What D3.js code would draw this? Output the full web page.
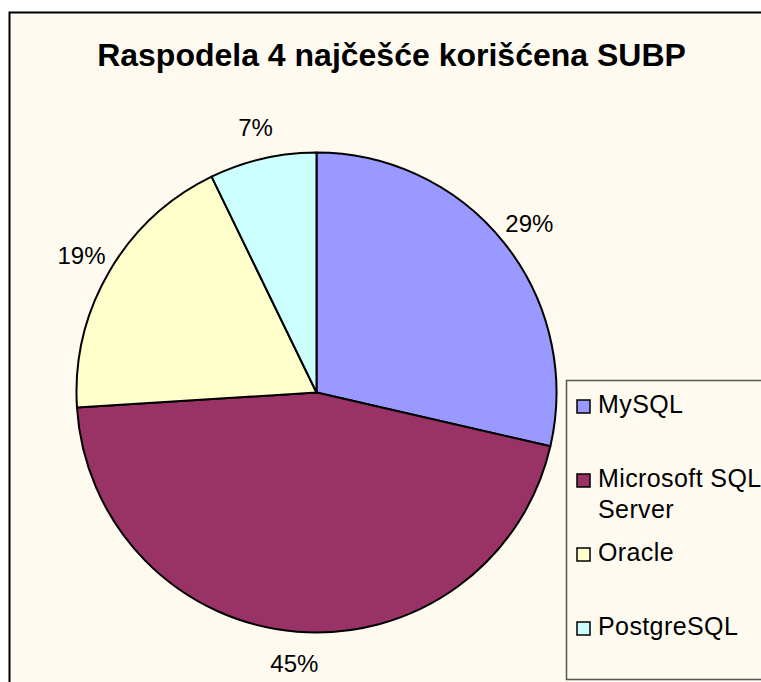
<!DOCTYPE html>
<html>
<head>
<meta charset="utf-8">
<script src="https://cdn.jsdelivr.net/npm/d3@7"></script>
<style>
  html, body { margin: 0; padding: 0; background: #fff; }
  svg { display: block; font-family: Arial, "Liberation Sans", sans-serif; }
</style>
</head>
<body>
<div id="chart"></div>
<script>
// Data
const categories = ['MySQL', 'Microsoft SQL Server', 'Oracle', 'PostgreSQL'];
const legendLines = [['MySQL'], ['Microsoft SQL', 'Server'], ['Oracle'], ['PostgreSQL']];
const shares = [28.6, 45.4, 18.8, 7.2];
const colors = ['#9999FF', '#993366', '#FFFFCC', '#CCFFFF'];
const title = 'Raspodela 4 najčešće korišćena SUBP';

const width = 761, height = 682;
const cx = 316.5, cy = 392.5, radius = 240;

const svg = d3.select('#chart')
  .append('svg')
  .attr('width', width)
  .attr('height', height);

// chart area with cream fill
svg.append('rect')
  .attr('x', 9.5)
  .attr('y', 12.5)
  .attr('width', width + 20)
  .attr('height', height + 20)
  .attr('fill', '#FFFAF0')
  .attr('stroke', '#000')
  .attr('stroke-width', 2);

svg.append('text')
  .attr('x', 391.5)
  .attr('y', 66)
  .attr('text-anchor', 'middle')
  .attr('font-size', 32)
  .attr('font-weight', 'bold')
  .attr('fill', '#000')
  .text(title);

const data = categories.map((c, i) => ({ name: c, value: shares[i], color: colors[i] }));

const pie = d3.pie()
  .value(d => d.value)
  .sort(null);

const arc = d3.arc()
  .innerRadius(0)
  .outerRadius(radius);

const labelArc = d3.arc()
  .innerRadius(radius + 32)
  .outerRadius(radius + 32);

const g = svg.append('g')
  .attr('transform', `translate(${cx},${cy})`);

const arcs = pie(data);

g.selectAll('path.slice')
  .data(arcs)
  .enter()
  .append('path')
  .attr('class', 'slice')
  .attr('d', arc)
  .attr('fill', d => d.data.color)
  .attr('stroke', '#000')
  .attr('stroke-width', 2)
  .attr('stroke-linejoin', 'round');

g.selectAll('text.pct')
  .data(arcs)
  .enter()
  .append('text')
  .attr('class', 'pct')
  .attr('x', d => labelArc.centroid(d)[0])
  .attr('y', d => labelArc.centroid(d)[1])
  .attr('dy', '0.35em')
  .attr('text-anchor', 'middle')
  .attr('font-size', 24)
  .attr('fill', '#000')
  .text(d => Math.round(d.data.value) + '%');

// Legend
const legend = svg.append('g');

legend.append('rect')
  .attr('x', 566.5)
  .attr('y', 380.5)
  .attr('width', 220)
  .attr('height', 299)
  .attr('fill', '#FFFAF0')
  .attr('stroke', '#555')
  .attr('stroke-width', 1.5);

const legendY = d3.scalePoint()
  .domain(categories)
  .range([413, 635]);

const items = legend.selectAll('g.item')
  .data(data)
  .enter()
  .append('g')
  .attr('class', 'item')
  .attr('transform', d => `translate(0,${legendY(d.name)})`);

items.append('rect')
  .attr('x', 577)
  .attr('y', -13)
  .attr('width', 13)
  .attr('height', 13)
  .attr('fill', d => d.color)
  .attr('stroke', '#000')
  .attr('stroke-width', 1.5);

items.append('text')
  .attr('x', 598)
  .attr('y', 0)
  .attr('font-size', 25)
  .attr('letter-spacing', 0.4)
  .attr('fill', '#000')
  .selectAll('tspan')
  .data((d, i) => legendLines[i])
  .enter()
  .append('tspan')
  .attr('x', 598)
  .attr('dy', (d, j) => j === 0 ? 0 : 31)
  .text(d => d);
</script>
</body>
</html>
